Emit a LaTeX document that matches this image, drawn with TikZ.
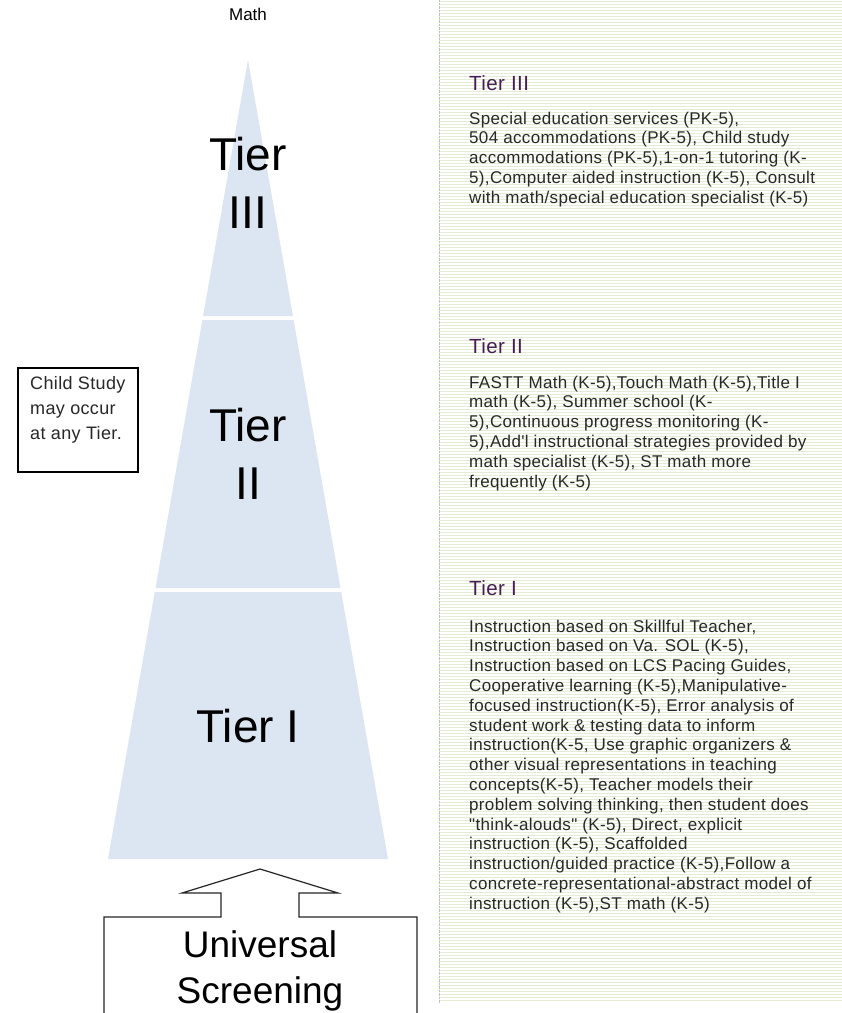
\documentclass[tikz,border=0pt]{standalone}
\usepackage{fontspec}
\setmainfont{Liberation Sans}
\newfontfamily\panelfont[LetterSpace=2]{Liberation Sans}
\usetikzlibrary{positioning}

\definecolor{tierfill}{RGB}{220,230,242}
\definecolor{panelline}{RGB}{228,236,214}
\definecolor{tierhead}{RGB}{70,30,85}
\definecolor{bodytext}{RGB}{40,40,40}

\begin{document}
\begin{tikzpicture}[
    x=1pt, y=-1pt,
    tier/.style={fill=tierfill, draw=none},
    tierlabel/.style={font=\fontsize{46}{58}\selectfont, align=center, inner sep=0pt, anchor=base},
    head/.style={font=\panelfont\fontsize{20.5}{24}\selectfont, text=tierhead, anchor=base west, inner sep=0pt},
    body/.style={font=\panelfont\fontsize{17}{19.8}\selectfont, text=bodytext, align=left, anchor=base west, inner sep=0pt},
    notebox/.style={draw, line width=1.3pt, minimum width=120pt, minimum height=104pt, inner sep=0pt},
    notetext/.style={font=\panelfont\fontsize{18}{25}\selectfont, text=bodytext, align=left, anchor=base west, inner sep=0pt},
    screenline/.style={draw=black!85, line width=1.2pt, line join=miter}
]
\useasboundingbox (0,0) rectangle (842,1013);

% striped panel
\fill[white] (0,0) rectangle (842,1013);
\foreach \y in {1.5,4.5,...,1002} {
  \draw[panelline, line width=1.5pt] (439,\y) -- (842,\y);
}
\draw[densely dotted, black!25] (439,0) -- (439,1003);

% pyramid
\fill[tier] (248,60) -- (203.1,316) -- (292.9,316) -- cycle;
\fill[tier] (202.4,320) -- (293.6,320) -- (340.5,588) -- (155.5,588) -- cycle;
\fill[tier] (154.8,592) -- (341.2,592) -- (388,859) -- (108,859) -- cycle;

% labels sit on the baseline of their last line
\node[font=\fontsize{17}{20}\selectfont, anchor=base, inner sep=0pt] (title) at (248,20) {Math};
\node[tierlabel] (tierthree) at (248,228) {Tier\\III};
\node[tierlabel] (tiertwo) at (248,499) {Tier\\II};
\node[tierlabel] (tierone) at (248,742) {Tier I};

% child study note
\node[notebox] (childbox) at (78,420) {};
\node[notetext] (childtext) at (30,439) {Child Study\\may occur\\at any Tier.};

% universal screening
\draw[screenline] (104,1013) -- (104,917) -- (221,917) -- (221,893) -- (182,893)
  -- (260,869) -- (338,893) -- (299,893) -- (299,917) -- (417,917) -- (417,1013);
\node[font=\fontsize{37}{46}\selectfont, align=center, anchor=base, inner sep=0pt] (screening) at (260,1003) {Universal\\Screening};

% panel texts
\node[head] (headthree) at (469,90) {Tier III};
\node[body] (bodythree) at (469,203.2) {Special education services (PK-5),\\
504 accommodations (PK-5), Child study\\
accommodations (PK-5),1-on-1 tutoring (K-\\
5),Computer aided instruction (K-5), Consult\\
with math/special education specialist (K-5)};

\node[head] (headtwo) at (469,353) {Tier II};
\node[body] (bodytwo) at (469,487) {FASTT Math (K-5),Touch Math (K-5),Title I\\
math (K-5), Summer school (K-\\
5),Continuous progress monitoring (K-\\
5),Add'l instructional strategies provided by\\
math specialist (K-5), ST math more\\
frequently (K-5)};

\node[head] (headone) at (469,595) {Tier I};
\node[body] (bodyone) at (469,909.2) {Instruction based on Skillful Teacher,\\
Instruction based on Va. SOL (K-5),\\
Instruction based on LCS Pacing Guides,\\
Cooperative learning (K-5),Manipulative-\\
focused instruction(K-5), Error analysis of\\
student work \& testing data to inform\\
instruction(K-5, Use graphic organizers \&\\
other visual representations in teaching\\
concepts(K-5), Teacher models their\\
problem solving thinking, then student does\\
"think-alouds" (K-5), Direct, explicit\\
instruction (K-5), Scaffolded\\
instruction/guided practice (K-5),Follow a\\
concrete-representational-abstract model of\\
instruction (K-5),ST math (K-5)};
\end{tikzpicture}
\end{document}
